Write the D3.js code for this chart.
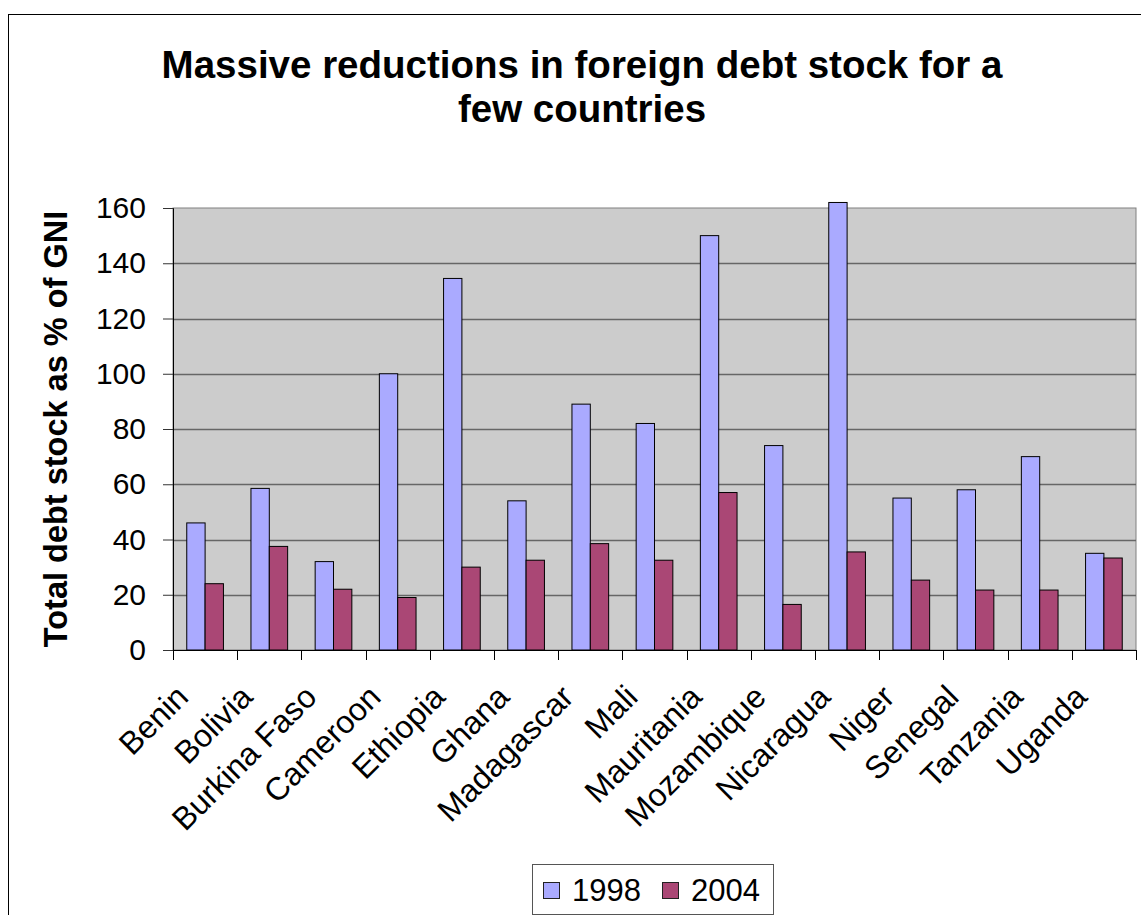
<!DOCTYPE html>
<html>
<head>
<meta charset="utf-8">
<script src="https://cdnjs.cloudflare.com/ajax/libs/d3/7.8.5/d3.min.js"></script>
<style>
  html, body { margin: 0; padding: 0; background: #fff; }
  svg { display: block; font-family: "Liberation Sans", Arial, sans-serif; }
</style>
</head>
<body>
<div id="chart"></div>
<script>
// data
const countries = ["Benin", "Bolivia", "Burkina Faso", "Cameroon", "Ethiopia", "Ghana",
  "Madagascar", "Mali", "Mauritania", "Mozambique", "Nicaragua", "Niger", "Senegal",
  "Tanzania", "Uganda"];
const years = ["1998", "2004"];
const debt1998 = [46, 58.5, 32, 100, 134.5, 54, 89, 82, 150, 74, 162, 55, 58, 70, 35];
const debt2004 = [24, 37.5, 22, 19, 30, 32.5, 38.5, 32.5, 57, 16.5, 35.5, 25.3, 21.7, 21.7, 33.3];
const yTicks = [0, 20, 40, 60, 80, 100, 120, 140, 160];
const colors = ["#aaaaff", "#aa4775"];

function init() {
  const w = 1141;
  const h = 915;
  const plot = { left: 173, right: 1136, top: 208, bottom: 650 };

  const rows = countries.map((c, i) => ({ country: c, values: [debt1998[i], debt2004[i]] }));

  const svg = d3.select("#chart").append("svg")
    .attr("width", w)
    .attr("height", h);

  // outer chart frame
  svg.append("rect")
    .attr("x", 8.5).attr("y", 14.5)
    .attr("width", w + 20).attr("height", h + 20)
    .attr("fill", "#fff").attr("stroke", "#000").attr("stroke-width", 1);

  // title
  const title = svg.append("text")
    .attr("text-anchor", "middle")
    .attr("font-weight", "bold")
    .attr("font-size", "38.5px")
    .attr("fill", "#000");
  title.append("tspan").attr("x", 582).attr("y", 78).text("Massive reductions in foreign debt stock for a");
  title.append("tspan").attr("x", 582).attr("y", 122).text("few countries");

  const x = d3.scaleBand().domain(countries).range([plot.left, plot.right]).paddingInner(0).paddingOuter(0);
  const xs = d3.scaleBand().domain(years).range([0, x.bandwidth()]).paddingInner(0).paddingOuter(0.75);
  const y = d3.scaleLinear().domain([0, 160]).range([plot.bottom, plot.top]);

  // plot area
  svg.append("rect")
    .attr("x", plot.left).attr("y", plot.top)
    .attr("width", plot.right - plot.left).attr("height", plot.bottom - plot.top)
    .attr("fill", "#cccccc").attr("stroke", "#808080").attr("stroke-width", 1);

  // gridlines
  svg.append("g").selectAll("line")
    .data(yTicks.filter(d => d > 0 && d < 160))
    .enter().append("line")
    .attr("x1", plot.left).attr("x2", plot.right)
    .attr("y1", d => Math.round(y(d)) + 0.5).attr("y2", d => Math.round(y(d)) + 0.5)
    .attr("stroke", "#666").attr("stroke-width", 1.3);

  // bars
  const groups = svg.append("g").selectAll("g.country")
    .data(rows)
    .enter().append("g")
    .attr("class", "country")
    .attr("transform", d => "translate(" + x(d.country) + ",0)");

  groups.selectAll("rect")
    .data(d => d.values.map((v, i) => ({ year: years[i], value: v, i: i })))
    .enter().append("rect")
    .attr("x", d => xs(d.year))
    .attr("y", d => y(d.value))
    .attr("width", xs.bandwidth())
    .attr("height", d => y(0) - y(d.value))
    .attr("fill", d => colors[d.i])
    .attr("stroke", "#000")
    .attr("stroke-width", 1);

  // y axis
  const yAxis = svg.append("g")
    .attr("transform", "translate(" + plot.left + ",0)")
    .call(d3.axisLeft(y).tickValues(yTicks).tickSize(10).tickPadding(17).tickFormat(d3.format("d")));
  yAxis.select(".domain").attr("stroke", "#000");
  yAxis.selectAll(".tick line").attr("stroke", "#333");
  yAxis.selectAll("text")
    .attr("font-size", "30px")
    .attr("font-family", "Liberation Sans, Arial, sans-serif")
    .attr("fill", "#000");

  // x axis line and ticks at category boundaries
  svg.append("line")
    .attr("x1", plot.left).attr("x2", plot.right)
    .attr("y1", plot.bottom + 0.5).attr("y2", plot.bottom + 0.5)
    .attr("stroke", "#000");
  const boundaries = countries.map(c => x(c)).concat([plot.right]);
  svg.append("g").selectAll("line")
    .data(boundaries)
    .enter().append("line")
    .attr("x1", d => Math.round(d) + 0.5).attr("x2", d => Math.round(d) + 0.5)
    .attr("y1", plot.bottom).attr("y2", plot.bottom + 10)
    .attr("stroke", "#000");

  // rotated category labels
  svg.append("g").selectAll("text")
    .data(countries)
    .enter().append("text")
    .attr("transform", d => "translate(" + (x(d) + x.bandwidth() / 2 - 15) + "," + (plot.bottom + 49) + ") rotate(-45)")
    .attr("text-anchor", "end")
    .attr("font-size", "32px")
    .attr("fill", "#000")
    .text(d => d);

  // y axis title
  svg.append("text")
    .attr("transform", "translate(67,429) rotate(-90)")
    .attr("text-anchor", "middle")
    .attr("font-weight", "bold")
    .attr("font-size", "32.5px")
    .attr("fill", "#000")
    .text("Total debt stock as % of GNI");

  // legend
  const legend = svg.append("g");
  legend.append("rect")
    .attr("x", 532.5).attr("y", 864.5)
    .attr("width", 241).attr("height", 50)
    .attr("fill", "#fff").attr("stroke", "#555");
  const items = legend.selectAll("g.item")
    .data(years)
    .enter().append("g")
    .attr("class", "item")
    .attr("transform", (d, i) => "translate(" + (543 + i * 119) + ",0)");
  items.append("rect")
    .attr("x", 0.5).attr("y", 882.5)
    .attr("width", 16).attr("height", 16)
    .attr("fill", (d, i) => colors[i])
    .attr("stroke", "#222");
  items.append("text")
    .attr("x", 29).attr("y", 901)
    .attr("font-size", "31px")
    .attr("fill", "#000")
    .text(d => d);
}
window.addEventListener("load", init);
</script>
</body>
</html>
